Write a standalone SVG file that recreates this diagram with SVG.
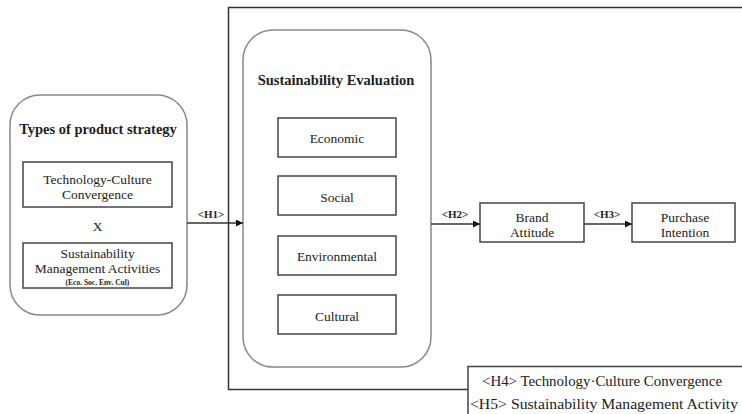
<svg xmlns="http://www.w3.org/2000/svg" width="742" height="414" viewBox="0 0 742 414">
<style>
text{font-family:"Liberation Serif","DejaVu Serif",serif;fill:#222;text-anchor:middle}
.t{font-size:13.5px}
.b{font-size:14.5px;font-weight:bold}
.h{font-size:11px;font-weight:bold}
.lg{font-size:15px;text-anchor:start}
.round{fill:#fff;stroke:#888;stroke-width:1.5}
.box{fill:#fff;stroke:#444;stroke-width:1.5}
.ln{fill:none;stroke:#333;stroke-width:1.5}
</style>
<defs>
<marker id="ar" viewBox="0 0 10 10" refX="10" refY="5" markerWidth="7" markerHeight="7" markerUnits="userSpaceOnUse" orient="auto">
<path d="M0,0 L10,5 L0,10 z" fill="#111"/>
</marker>
</defs>
<rect width="742" height="414" fill="#fff"/>
<g id="frame">
<path class="ln" d="M745,7.5 H228.5 V389.5 H468"/>
</g>
<g id="legend">
<rect x="468" y="366.5" width="290" height="60" fill="#fff" stroke="#444" stroke-width="1.5"/>
<text class="lg" x="482" y="386" textLength="240" lengthAdjust="spacingAndGlyphs">&lt;H4&gt; Technology·Culture Convergence</text>
<text class="lg" x="470" y="409" textLength="268" lengthAdjust="spacingAndGlyphs">&lt;H5&gt; Sustainability Management Activity</text>
</g>
<g id="product-strategy">
<rect class="round" x="10" y="95" width="177" height="220" rx="30"/>
<text class="b" x="98" y="134">Types of product strategy</text>
<rect class="box" x="23" y="162" width="149" height="45"/>
<text class="t" x="97.5" y="184">Technology-Culture</text>
<text class="t" x="97.5" y="199">Convergence</text>
<text class="t" x="97.5" y="231">X</text>
<rect class="box" x="23" y="243" width="149" height="45"/>
<text class="t" x="97.5" y="258">Sustainability</text>
<text class="t" x="97.5" y="273">Management Activities</text>
<text x="97.5" y="285" style="font-size:7.5px;font-weight:bold">(Eco. Soc. Env. Cul)</text>
</g>
<g id="sustainability-evaluation">
<rect class="round" x="243" y="30" width="188" height="337" rx="30"/>
<text class="b" x="336" y="85">Sustainability Evaluation</text>
<rect class="box" x="278" y="118" width="118" height="39"/>
<text class="t" x="337" y="143">Economic</text>
<rect class="box" x="278" y="176" width="118" height="39"/>
<text class="t" x="337" y="202">Social</text>
<rect class="box" x="278" y="236" width="118" height="39"/>
<text class="t" x="337" y="261">Environmental</text>
<rect class="box" x="278" y="295" width="118" height="39"/>
<text class="t" x="337" y="321">Cultural</text>
</g>
<g id="brand-attitude">
<rect class="box" x="480" y="203" width="104" height="39"/>
<text class="t" x="532" y="222">Brand</text>
<text class="t" x="532" y="237">Attitude</text>
</g>
<g id="purchase-intention">
<rect class="box" x="632" y="203" width="103" height="39"/>
<text class="t" x="685" y="222">Purchase</text>
<text class="t" x="685" y="237">Intention</text>
</g>
<g id="connectors">
<line class="ln" x1="187" y1="223" x2="243" y2="223" marker-end="url(#ar)"/>
<text class="h" x="211" y="218">&lt;H1&gt;</text>
<line class="ln" x1="431" y1="224" x2="480" y2="224" marker-end="url(#ar)"/>
<text class="h" x="455" y="218">&lt;H2&gt;</text>
<line class="ln" x1="584" y1="224" x2="632" y2="224" marker-end="url(#ar)"/>
<text class="h" x="607" y="218">&lt;H3&gt;</text>
</g>
</svg>
